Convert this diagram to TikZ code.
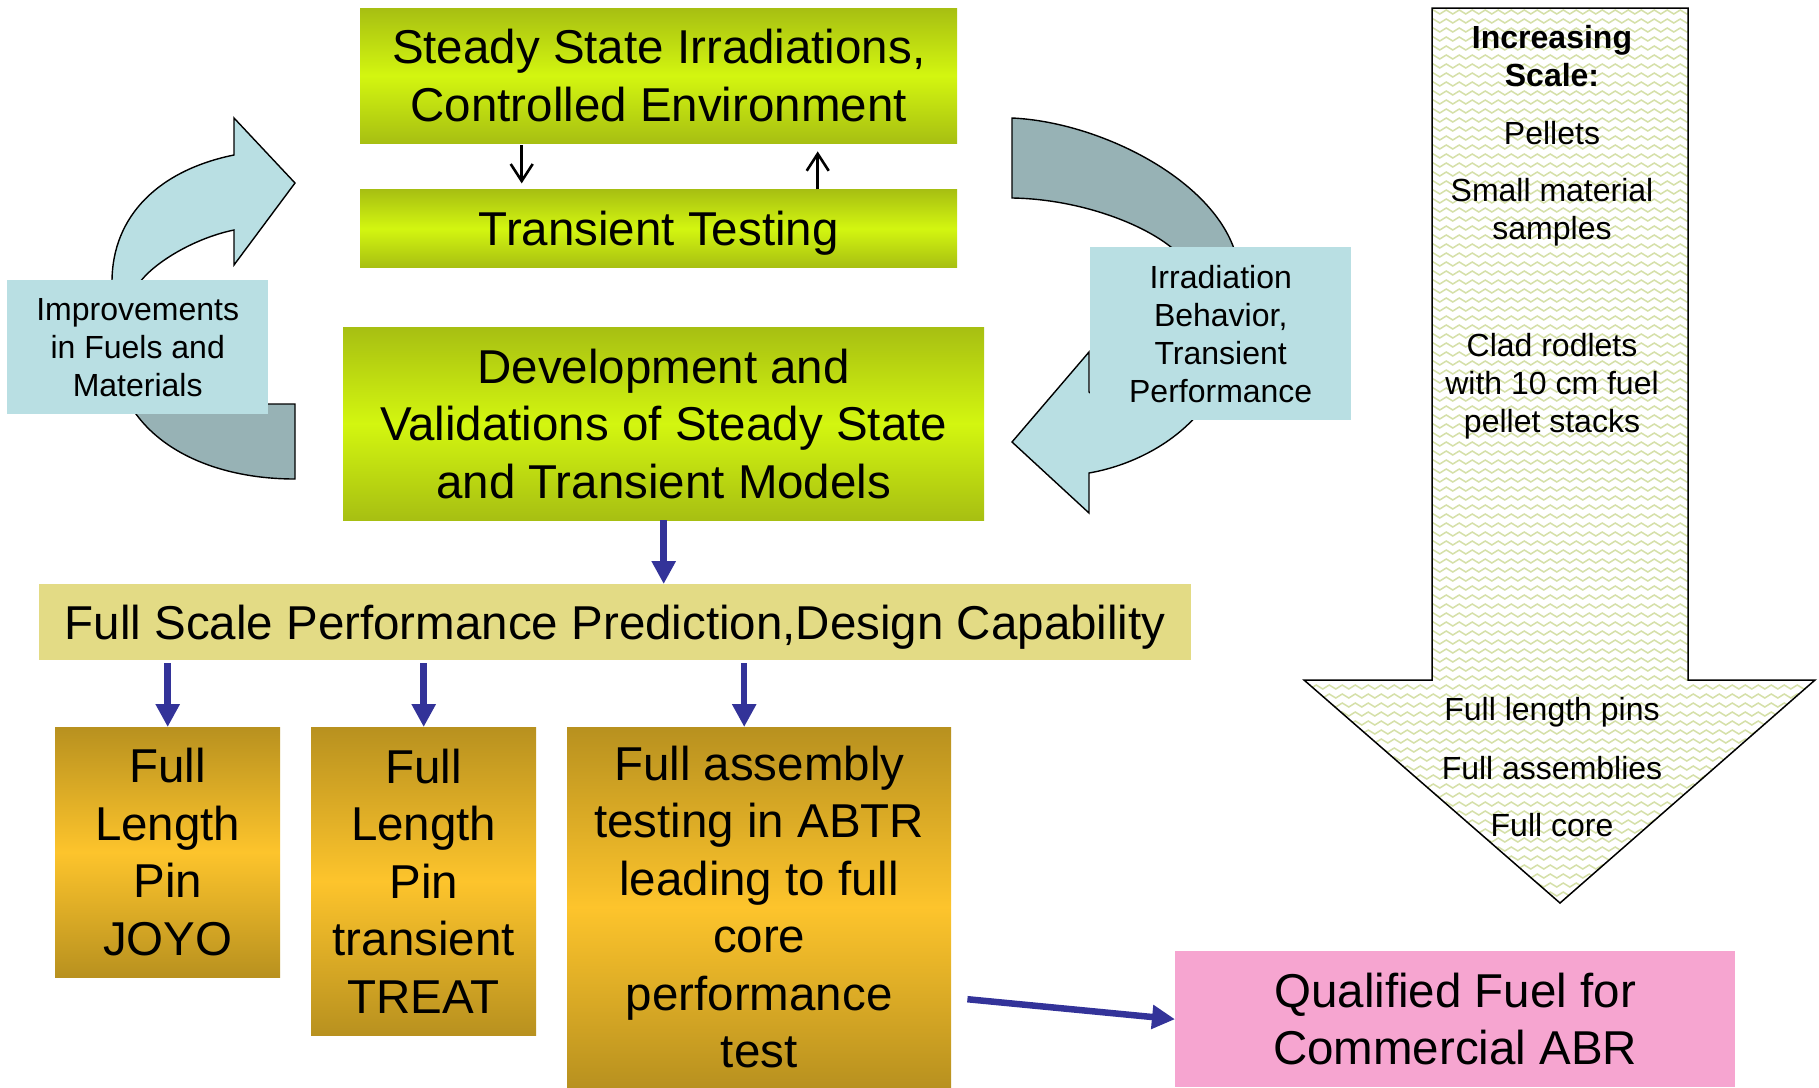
\documentclass[tikz,border=0pt]{standalone}
\usepackage{fontspec}
\setmainfont{Liberation Sans}
\usepackage{tikz}
\usetikzlibrary{arrows.meta,positioning,decorations.pathmorphing}
\newcommand{\bigtxt}{\fontsize{47.5}{57.5}\selectfont}
\newcommand{\smalltxt}{\fontsize{32}{38}\selectfont}
\definecolor{leafdark}{HTML}{A7BF12}
\definecolor{leaflight}{HTML}{D3F610}
\definecolor{goldedge}{HTML}{B8911F}
\definecolor{goldmid}{HTML}{FDC42C}
\definecolor{khaki}{HTML}{E3DB85}
\definecolor{rosepink}{HTML}{F6A5D0}
\definecolor{paleblue}{HTML}{B9DFE3}
\definecolor{slategray}{HTML}{97B2B5}
\definecolor{indigoarr}{HTML}{333399}
\definecolor{zigline}{HTML}{D5E0A8}
% outline of the wide down arrow on the right
\def\scalepath{(1432,8) -- (1688,8) -- (1688,680) -- (1815,680) -- (1560,903) -- (1304,680) -- (1432,680) -- cycle}

\begin{document}
\begin{tikzpicture}[x=1pt, y=-1pt,
    greenbox/.style={inner sep=0pt, top color=leafdark, bottom color=leafdark,
                     middle color=leaflight, font=\bigtxt, align=center},
    goldbox/.style={inner sep=0pt, top color=goldedge, bottom color=goldedge,
                    middle color=goldmid, font=\bigtxt, align=center, anchor=north west},
    tagbox/.style={inner sep=0pt, fill=paleblue, font=\smalltxt, align=center, anchor=north west},
    scaletxt/.style={font=\smalltxt, align=center},
    bluearr/.style={-{Triangle[length=23pt,width=23pt]}, line width=6.5pt, indigoarr},
    thinarr/.style={-{Straight Barb[length=17pt,width=22pt]}, line width=2.6pt, black},
    curl/.style={draw=black, line width=1.4pt, line join=miter}
]
\useasboundingbox (0,0) rectangle (1819,1087);

% circular arrows behind the two side labels
\path[curl, fill=paleblue] (112,290) -- (112,282) .. controls (112,215) and (160,170) .. (234,155)
    -- (234,118) -- (295,183) -- (234,265) -- (234,230)
    .. controls (195,238) and (155,262) .. (140,282) -- (140,290) -- cycle;
\path[curl, fill=slategray] (250,404) -- (295,404) -- (295,479)
    .. controls (225,479) and (160,455) .. (130,405) -- cycle;
\path[curl, fill=slategray] (1012,118) .. controls (1100,122) and (1215,180) .. (1236,255)
    -- (1180,255) .. controls (1150,225) and (1080,199) .. (1012,198) -- cycle;
\path[curl, fill=paleblue] (1100,400) -- (1089,392) -- (1089,352) -- (1012,442) -- (1089,513)
    -- (1089,473) .. controls (1135,465) and (1180,440) .. (1205,405) -- cycle;

% increasing scale arrow with its zigzag fill
\fill[white] \scalepath;
\begin{scope}
  \clip \scalepath;
  \foreach \yy in {12,21,...,905}
    \draw[zigline, line width=1.5pt, decorate,
          decoration={zigzag, segment length=13pt, amplitude=2pt}] (1300,\yy) -- (1820,\yy);
\end{scope}
\draw[line width=1.5pt, line join=miter] \scalepath;

\node[scaletxt, font=\smalltxt\bfseries] (scaletitle) at (1552,56) {Increasing\\Scale:};
\node[scaletxt] (pellets) at (1552,133) {Pellets};
\node[scaletxt] (samples) at (1552,212) {Small material\\samples};
\node[scaletxt] (rodlets) at (1552,386) {Clad rodlets\\with 10 cm fuel\\pellet stacks};
\node[scaletxt] (pins) at (1552,712) {Full length pins};
\node[scaletxt] (assemblies) at (1552,768) {Full assemblies};
\node[scaletxt] (core) at (1552,825) {Full core};

% main flow
\node[greenbox, anchor=north west, minimum width=597, minimum height=135] (steady) at (360,8)
    {Steady State Irradiations,\\Controlled Environment};
\node[greenbox, text depth=0pt, minimum width=597, minimum height=78, below=46pt of steady] (transient)
    {Transient Testing};
\node[greenbox, anchor=north west, minimum width=641, minimum height=193] (models) at (343,327)
    {Development and\\Validations of Steady State\\and Transient Models};
\node[tagbox, minimum width=261, minimum height=134] (improve) at (7,280)
    {Improvements\\in Fuels and\\Materials};
\node[tagbox, minimum width=261, minimum height=173] (behavior) at (1090,247)
    {Irradiation\\Behavior,\\Transient\\Performance};
\node[inner sep=0pt, fill=khaki, font=\bigtxt, text depth=0pt, anchor=north west,
      minimum width=1152, minimum height=76] (fullscale) at (39,584)
    {Full Scale Performance Prediction,Design Capability};

\node[goldbox, minimum width=225, minimum height=250] (joyo) at (55,727)
    {Full\\Length\\Pin\\JOYO};
\node[goldbox, minimum width=225, minimum height=308] (treat) at (311,727)
    {Full\\Length\\Pin\\transient\\TREAT};
\node[goldbox, minimum width=384, minimum height=360] (assembly) at (567,727)
    {Full assembly\\testing in ABTR\\leading to full\\core\\performance\\test};
\node[inner sep=0pt, fill=rosepink, font=\bigtxt, align=center, anchor=north west,
      minimum width=560, minimum height=136] (qualified) at (1175,951)
    {Qualified Fuel for\\Commercial ABR};

% connectors
\draw[thinarr, shorten <=2pt, shorten >=6pt] ([xshift=-137pt]steady.south) -- ([xshift=-137pt]transient.north);
\draw[thinarr, shorten >=8pt] ([xshift=159pt]transient.north) -- ([xshift=159pt]steady.south);

\draw[bluearr] (models.south) -- (models.south |- fullscale.north);
\coordinate (a3) at ([xshift=-15pt]assembly.north);
\draw[bluearr, shorten <=3pt] (fullscale.south -| joyo.north) -- (joyo.north);
\draw[bluearr, shorten <=3pt] (fullscale.south -| treat.north) -- (treat.north);
\draw[bluearr, shorten <=3pt] (fullscale.south -| a3) -- (a3);
\draw[bluearr] ([xshift=16pt,yshift=-92pt]assembly.east) -- (qualified.west);
\end{tikzpicture}
\end{document}
